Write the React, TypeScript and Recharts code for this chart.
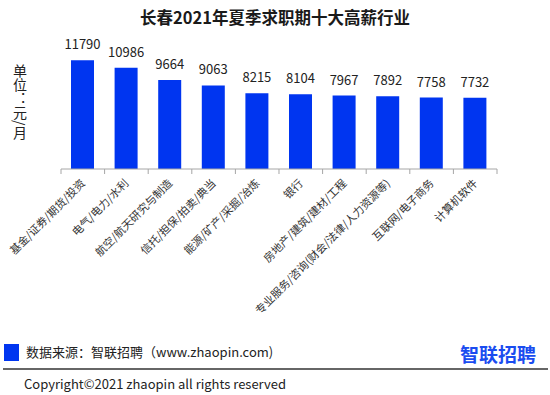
import React from "react";
import { BarChart, Bar, XAxis, YAxis, LabelList } from "recharts";

const industries = [
    "基金/证券/期货/投资",
    "电气/电力/水利",
    "航空/航天研究与制造",
    "信托/担保/拍卖/典当",
    "能源/矿产/采掘/冶炼",
    "银行",
    "房地产/建筑/建材/工程",
    "专业服务/咨询(财会/法律/人力资源等)",
    "互联网/电子商务",
    "计算机软件",
];

const salaries = [11790, 10986, 9664, 9063, 8215, 8104, 7967, 7892, 7758, 7732];

const data = industries.map((name, i) => ({ name, value: salaries[i] }));

const W = 550;
const H = 395;
const MARGIN = { top: 40, right: 53, bottom: 76, left: 61 };
const BAND = (W - MARGIN.left - MARGIN.right) / industries.length;
const BLUE = "#0035f0";
const FONT = '"Microsoft YaHei", "Noto Sans CJK SC", sans-serif';

const CategoryTick = (props: any) => {
    const { x, y, payload, index } = props;
    return (
        <g transform={`translate(${x},${y})`}>
            <line x1={-BAND / 2} y1={0} x2={-BAND / 2} y2={5} stroke="#a6a6a6" />
            {index === industries.length - 1 && (
                <line x1={BAND / 2} y1={0} x2={BAND / 2} y2={5} stroke="#a6a6a6" />
            )}
            <text
                transform="translate(3,15) rotate(-45)"
                textAnchor="end"
                fontSize={11}
                fill="#333"
                fontFamily={FONT}
            >
                {payload.value}
            </text>
        </g>
    );
};

export default function App() {
    return (
        <div
            style={{
                position: "absolute",
                left: 0,
                top: 0,
                width: W,
                height: H,
                fontFamily: FONT,
                background: "#fff",
                overflow: "hidden",
            }}
        >
            <div
                style={{
                    position: "absolute",
                    left: 0,
                    width: W,
                    top: 6,
                    textAlign: "center",
                    fontSize: 16.5,
                    fontWeight: 700,
                    color: "#1a1a1a",
                    lineHeight: "22px",
                }}
            >
                长春2021年夏季求职期十大高薪行业
            </div>
            <div
                style={{
                    position: "absolute",
                    left: 12,
                    top: 64,
                    writingMode: "vertical-rl",
                    fontSize: 14,
                    color: "#222",
                    lineHeight: "15px",
                }}
            >
                单位：元/月
            </div>
            <BarChart width={W} height={H} data={data} margin={MARGIN}>
                <XAxis
                    dataKey="name"
                    interval={0}
                    height={150}
                    tickSize={0}
                    tickMargin={0}
                    tickLine={false}
                    axisLine={{ stroke: "#a6a6a6" }}
                    tick={<CategoryTick />}
                />
                <YAxis hide domain={[0, 14000]} />
                <Bar dataKey="value" fill={BLUE} barSize={23} isAnimationActive={false}>
                    <LabelList
                        dataKey="value"
                        position="top"
                        offset={11}
                        fill="#222"
                        fontSize={13}
                        fontFamily={FONT}
                    />
                </Bar>
            </BarChart>
            <div
                style={{
                    position: "absolute",
                    left: 4,
                    top: 344,
                    width: 15,
                    height: 17,
                    background: BLUE,
                }}
            />
            <div
                style={{
                    position: "absolute",
                    left: 26,
                    top: 343,
                    fontSize: 13,
                    lineHeight: "18px",
                    color: "#222",
                }}
            >
                数据来源：智联招聘（www.zhaopin.com)
            </div>
            <div
                style={{
                    position: "absolute",
                    left: 460,
                    top: 342,
                    fontSize: 19,
                    fontWeight: 700,
                    lineHeight: "24px",
                    color: "#1a4cf0",
                }}
            >
                智联招聘
            </div>
            <div
                style={{
                    position: "absolute",
                    left: 3,
                    top: 368,
                    width: 545,
                    height: 2,
                    background: "#666",
                }}
            />
            <div
                style={{
                    position: "absolute",
                    left: 24,
                    top: 375,
                    fontSize: 13,
                    lineHeight: "18px",
                    color: "#222",
                }}
            >
                Copyright©2021 zhaopin all rights reserved
            </div>
        </div>
    );
}
